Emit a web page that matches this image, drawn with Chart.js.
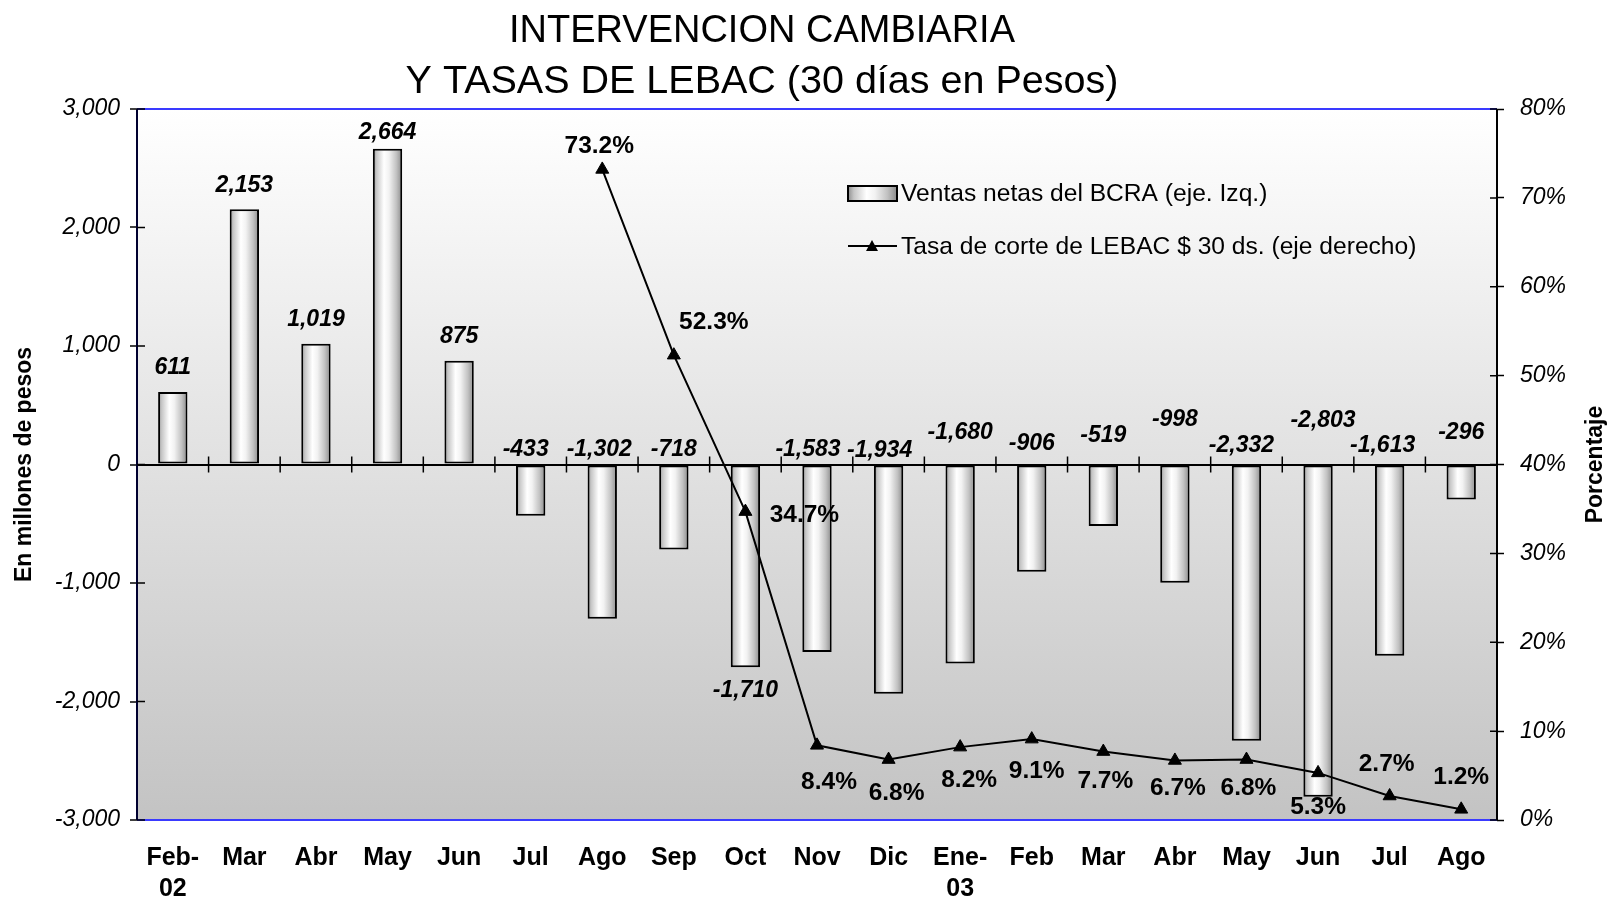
<!DOCTYPE html>
<html><head><meta charset="utf-8">
<script src="https://cdn.jsdelivr.net/npm/chart.js@4.4.0/dist/chart.umd.min.js"></script>
<style>html,body{margin:0;padding:0;background:#fff;}#wrap{width:1610px;height:899px;}</style>
</head><body><div id="wrap"><canvas id="c" width="1610" height="899"></canvas></div>
<script>
// ---- data ----
const categories = [["Feb-","02"],"Mar","Abr","May","Jun","Jul","Ago","Sep","Oct","Nov","Dic",["Ene-","03"],"Feb","Mar","Abr","May","Jun","Jul","Ago"];
const ventasNetas = [611,2153,1019,2664,875,-433,-1302,-718,-1710,-1583,-1934,-1680,-906,-519,-998,-2332,-2803,-1613,-296];
const tasaLebac = [null,null,null,null,null,null,73.2,52.3,34.7,8.4,6.8,8.2,9.1,7.7,6.7,6.8,5.3,2.7,1.2];
const leftAxisRange = [-3000, 3000, 1000];
const rightAxisRange = [0, 80, 10];
const titleLines = ["INTERVENCION CAMBIARIA","Y TASAS DE LEBAC (30 días en Pesos)"];
const seriesNames = ["Ventas netas del BCRA (eje. Izq.)","Tasa de corte de LEBAC $ 30 ds. (eje derecho)"];
const leftAxisTitle = "En millones de pesos";
const rightAxisTitle = "Porcentaje";

const FONT = "'Liberation Sans', Arial, Helvetica, sans-serif";
const BAR_PCT = 0.41;

function barGradient(ctx, x0, x1) {
  if (!isFinite(x0) || !isFinite(x1) || x1 <= x0) return '#e0e0e0';
  const g = ctx.createLinearGradient(x0, 0, x1, 0);
  g.addColorStop(0, '#8e8e8e');
  g.addColorStop(0.12, '#c6c6c6');
  g.addColorStop(0.38, '#ffffff');
  g.addColorStop(0.55, '#f2f2f2');
  g.addColorStop(0.8, '#c2c2c2');
  g.addColorStop(1, '#8a8a8a');
  return g;
}

// label layout (pixel shifts, presentation only)
const barLabelMode = i => (ventasNetas[i] >= 0 ? 'top' : (i === 8 ? 'below' : 'zero'));
const barTopDy = {3:-16};
const barLabelDy = {5:-15,6:-15,7:-15,9:-15,10:-14,11:-32,12:-21,13:-29,14:-45,15:-19,16:-44,17:-19,18:-32};
const barLabelDx = {5:-5,6:-3,9:-9,10:-9,15:-5,16:5,17:-7};
const lineLabelOff = {6:[-3,-23],7:[40,-33],8:[59,4],9:[12,37],10:[8,34],11:[9,33],12:[5,32],13:[2,30],14:[3,28],15:[2,29],16:[0,34],17:[-3,-32],18:[0,-32]};

const decor = {
  id: 'decor',
  beforeDraw(chart) {
    const {ctx, chartArea: a} = chart;
    ctx.save();
    ctx.fillStyle = '#fff';
    ctx.fillRect(0, 0, chart.width, chart.height);
    const g = ctx.createLinearGradient(0, a.top, 0, a.bottom);
    g.addColorStop(0, '#ffffff');
    g.addColorStop(1, '#c3c3c3');
    ctx.fillStyle = g;
    ctx.fillRect(a.left, a.top, a.right - a.left, a.bottom - a.top);
    // title
    ctx.fillStyle = '#000';
    ctx.textAlign = 'center';
    ctx.textBaseline = 'middle';
    ctx.font = `38px ${FONT}`;
    ctx.fillText(titleLines[0], 762, 32);
    ctx.font = `39.5px ${FONT}`;
    ctx.fillText(titleLines[1], 762, 82);
    ctx.restore();
  },
  afterDraw(chart) {
    const {ctx, chartArea: a, scales} = chart;
    const xs = scales.x, yl = scales.y, yr = scales.y2;
    ctx.save();
    ctx.strokeStyle = '#3a3aff';
    ctx.lineWidth = 2;
    ctx.beginPath();
    ctx.moveTo(a.left, a.top); ctx.lineTo(a.right, a.top);
    ctx.moveTo(a.left, a.bottom); ctx.lineTo(a.right, a.bottom);
    ctx.stroke();
    ctx.strokeStyle = '#000030';
    ctx.beginPath(); ctx.moveTo(a.left, a.top); ctx.lineTo(a.left, a.bottom); ctx.stroke();
    ctx.strokeStyle = '#000';
    ctx.beginPath(); ctx.moveTo(a.right, a.top); ctx.lineTo(a.right, a.bottom); ctx.stroke();
    ctx.lineWidth = 1.5;
    ctx.beginPath();
    yl.ticks.forEach(t => { const y = yl.getPixelForValue(t.value); ctx.moveTo(a.left, y); ctx.lineTo(a.left + 8, y); });
    yr.ticks.forEach(t => { const y = yr.getPixelForValue(t.value); ctx.moveTo(a.right, y); ctx.lineTo(a.right - 7, y); });
    const y0 = yl.getPixelForValue(0);
    const half = (xs.getPixelForValue(1) - xs.getPixelForValue(0)) / 2;
    for (let i = 1; i < categories.length; i++) {
      const x = xs.getPixelForValue(i) - half;
      ctx.moveTo(x, y0 - 8); ctx.lineTo(x, y0 + 8);
    }
    ctx.stroke();

    ctx.fillStyle = '#000';
    ctx.textAlign = 'center';
    ctx.textBaseline = 'middle';
    ctx.font = `italic bold 23px ${FONT}`;
    ventasNetas.forEach((v, i) => {
      const x = xs.getPixelForValue(i) + (barLabelDx[i] || 0);
      const yv = yl.getPixelForValue(v);
      let y;
      const m = barLabelMode(i);
      if (m === 'top') y = yv + (barTopDy[i] || -24);
      else if (m === 'below') y = yv + 24;
      else y = y0 + (barLabelDy[i] || -15);
      ctx.fillText(v.toLocaleString('en-US'), x, y);
    });
    ctx.font = `bold 24.5px ${FONT}`;
    tasaLebac.forEach((v, i) => {
      if (v === null) return;
      const o = lineLabelOff[i] || [0, -25];
      const x = xs.getPixelForValue(i) + o[0];
      const y = yr.getPixelForValue(v) + o[1];
      ctx.fillText(v.toFixed(1) + '%', x, y);
    });

    ctx.save();
    ctx.translate(1596, (a.top + a.bottom) / 2);
    ctx.rotate(-Math.PI / 2);
    ctx.font = `bold 23px ${FONT}`;
    ctx.fillText(rightAxisTitle, 0, 0);
    ctx.restore();

    const lx0 = 848, lx1 = 897;
    ctx.fillStyle = barGradient(ctx, lx0, lx1);
    ctx.fillRect(lx0, 186, lx1 - lx0, 15);
    ctx.strokeStyle = '#000'; ctx.lineWidth = 2;
    ctx.strokeRect(lx0, 186, lx1 - lx0, 15);
    ctx.beginPath(); ctx.moveTo(lx0, 246); ctx.lineTo(lx1, 246); ctx.stroke();
    ctx.fillStyle = '#000';
    ctx.beginPath();
    ctx.moveTo(872, 240); ctx.lineTo(878, 251); ctx.lineTo(866, 251); ctx.closePath(); ctx.fill();
    ctx.textAlign = 'left';
    ctx.font = `24.6px ${FONT}`;
    ctx.fillText(seriesNames[0], 901, 194);
    ctx.fillText(seriesNames[1], 901, 247);
    ctx.restore();
  }
};

const chart = new Chart(document.getElementById('c'), {
  type: 'bar',
  data: {
    labels: categories,
    datasets: [
      {
        type: 'line', label: seriesNames[1], data: tasaLebac, yAxisID: 'y2', order: 0,
        borderColor: '#000', borderWidth: 2, backgroundColor: '#000',
        pointStyle: 'triangle', pointRadius: 7.5, pointBorderWidth: 1, tension: 0, spanGaps: false
      },
      {
        type: 'bar', label: seriesNames[0], data: ventasNetas, yAxisID: 'y', order: 1,
        borderColor: '#000', borderWidth: 2, borderSkipped: false,
        barPercentage: BAR_PCT, categoryPercentage: 1,
        backgroundColor(c) {
          const ch = c.chart; const xs = ch.scales && ch.scales.x;
          if (!xs || c.dataIndex === undefined) return '#e0e0e0';
          const cx = xs.getPixelForValue(c.dataIndex);
          const w = (xs.getPixelForValue(1) - xs.getPixelForValue(0)) * BAR_PCT;
          return barGradient(ch.ctx, cx - w / 2, cx + w / 2);
        }
      }
    ]
  },
  options: {
    responsive: false, animation: false, devicePixelRatio: 1,
    layout: { padding: { left: 0, top: 109, bottom: 0, right: 0 } },
    plugins: {
      legend: { display: false }, tooltip: { enabled: false }, title: { display: false }
    },
    scales: {
      x: {
        offset: true,
        grid: { display: false, drawTicks: false },
        border: { display: false },
        ticks: { color: '#000', maxRotation: 0, autoSkip: false, padding: 22,
          font: { family: FONT, size: 25, weight: 'bold', lineHeight: 1.25 } },
        afterFit(s) { s.height = 79; }
      },
      y: {
        position: 'left', min: leftAxisRange[0], max: leftAxisRange[1],
        ticks: { stepSize: leftAxisRange[2], color: '#000', padding: 10,
          font: { family: FONT, size: 23, style: 'italic' },
          callback: v => v.toLocaleString('en-US') },
        grid: { drawOnChartArea: true, tickLength: 7, tickColor: '#000', tickWidth: 1.5,
          color: c => (c.tick && c.tick.value === 0 ? '#000' : 'rgba(0,0,0,0)'), lineWidth: 2 },
        border: { display: false },
        title: { display: true, text: leftAxisTitle, color: '#000', padding: { top: 11, bottom: 0 },
          font: { family: FONT, size: 23, weight: 'bold' } },
        afterFit(s) { s.width = 137; }
      },
      y2: {
        position: 'right', min: rightAxisRange[0], max: rightAxisRange[1],
        ticks: { stepSize: rightAxisRange[2], color: '#000', padding: 16,
          font: { family: FONT, size: 23, style: 'italic' },
          callback: v => v + '%' },
        grid: { drawOnChartArea: false, tickLength: 7, tickColor: '#000', tickWidth: 1.5 },
        border: { display: false },
        afterFit(s) { s.width = 113; }
      }
    }
  },
  plugins: [decor]
});
</script></body></html>
